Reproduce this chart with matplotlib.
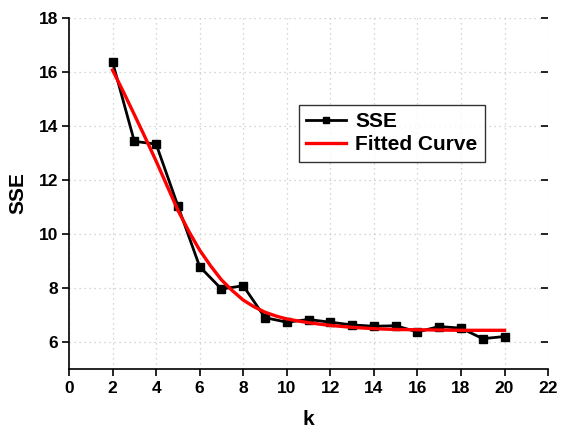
import matplotlib
matplotlib.use("Agg")
import matplotlib.pyplot as plt

# SSE for each number of clusters k
k_values = [2, 3, 4, 5, 6, 7, 8, 9, 10, 11, 12, 13, 14, 15, 16, 17, 18, 19, 20]
sse_values = [16.37, 13.43, 13.33, 11.04, 8.79, 7.96, 8.08, 6.90, 6.73, 6.83, 6.73,
              6.63, 6.58, 6.60, 6.37, 6.57, 6.51, 6.12, 6.20]

# fitted curve
fit_k = [2, 2.5, 3, 3.5, 4, 4.5, 5, 5.5, 6, 6.5, 7, 7.5, 8, 8.5, 9, 9.5, 10,
         11, 12, 13, 14, 15, 16, 17, 18, 19, 20]
fit_values = [16.07, 15.26, 14.42, 13.57, 12.70, 11.79, 10.88, 10.10, 9.40, 8.82,
              8.30, 7.90, 7.55, 7.30, 7.10, 6.96, 6.85, 6.71, 6.61, 6.54, 6.49,
              6.46, 6.45, 6.44, 6.43, 6.43, 6.43]

x_ticks = list(range(0, 23, 2))
y_ticks = list(range(6, 19, 2))

plt.rcParams["font.family"] = ["Liberation Sans", "DejaVu Sans"]
plt.rcParams["font.weight"] = "bold"

fig = plt.figure(figsize=(5.61, 4.34), dpi=100)
ax = fig.add_axes([0.123, 0.150, 0.854, 0.8085])

ax.plot(k_values, sse_values, color="black", linewidth=2, marker="s",
        markersize=6, label="SSE", zorder=3)
ax.plot(fit_k, fit_values, color="#ff0000", linewidth=2.4, label="Fitted Curve", zorder=4)

ax.set_xlim(0, 22)
ax.set_ylim(5, 18)
ax.set_xticks(x_ticks)
ax.set_yticks(y_ticks)
ax.grid(True, color="#c8c8c8", linestyle=(0, (1, 3)), linewidth=0.9)
ax.set_axisbelow(True)

for s in ["top", "right"]:
    ax.spines[s].set_visible(False)
for s in ["left", "bottom"]:
    ax.spines[s].set_linewidth(1.2)

ax.tick_params(axis="both", direction="out", length=5, width=1.2, labelsize=12.5)
ax.tick_params(axis="y", pad=3)
ax.tick_params(axis="y", which="major", right=True)
for t in ax.yaxis.get_major_ticks():
    t.tick2line.set_marker(0)  # right-side tick points into the plot

ax.set_xlabel("k", fontsize=15, fontweight="bold", labelpad=10)
ax.set_ylabel("SSE", fontsize=15, fontweight="bold", labelpad=8)

leg = ax.legend(loc="upper left", bbox_to_anchor=(0.480, 0.752), borderaxespad=0,
                fontsize=15, frameon=True, fancybox=False, borderpad=0.35,
                handlelength=1.9, labelspacing=0.2, handletextpad=0.45,
                markerscale=0.65)
leg.get_frame().set_edgecolor("black")
leg.get_frame().set_linewidth(1.0)
for t in leg.get_texts():
    t.set_fontweight("bold")

fig.savefig("out.png", dpi=100)
